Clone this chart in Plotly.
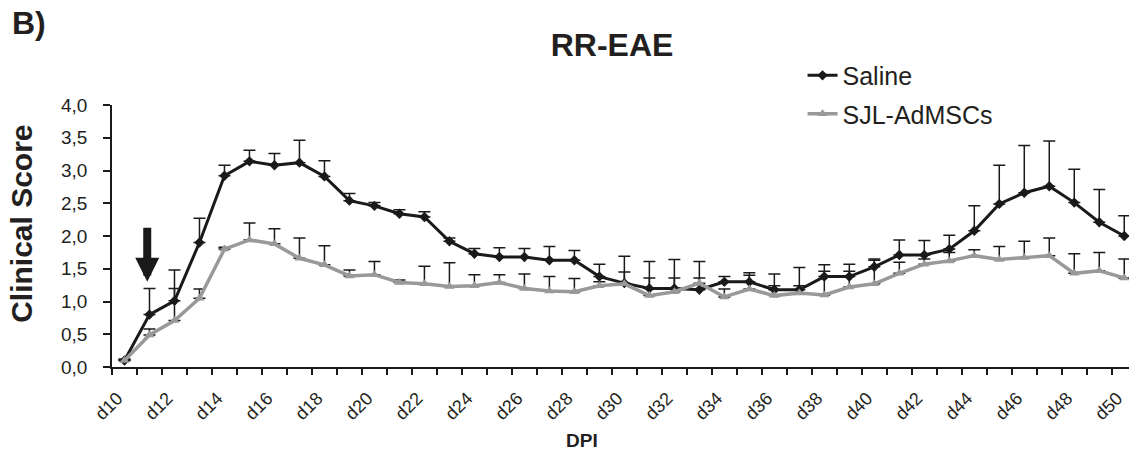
import plotly.graph_objects as go

days = [f"d{d}" for d in range(10, 51)]
tick_labels = [f"d{d}" for d in range(10, 51, 2)]

saline_mean = [0.10, 0.80, 1.01, 1.90, 2.92, 3.14, 3.08, 3.12, 2.91, 2.54,
               2.46, 2.34, 2.29, 1.92, 1.73, 1.68, 1.68, 1.63, 1.63, 1.38,
               1.28, 1.20, 1.20, 1.18, 1.30, 1.30, 1.18, 1.18, 1.38, 1.38,
               1.53, 1.71, 1.71, 1.80, 2.08, 2.49, 2.66, 2.76, 2.51, 2.21,
               2.00]
saline_sem = [0.02, 0.40, 0.47, 0.37, 0.16, 0.17, 0.18, 0.34, 0.24, 0.11,
              0.05, 0.06, 0.08, 0.05, 0.08, 0.14, 0.13, 0.21, 0.15, 0.19,
              0.41, 0.41, 0.44, 0.43, 0.08, 0.14, 0.24, 0.34, 0.18, 0.19,
              0.12, 0.23, 0.22, 0.21, 0.38, 0.59, 0.72, 0.69, 0.51, 0.50,
              0.31]
sjl_mean = [0.10, 0.49, 0.71, 1.05, 1.80, 1.94, 1.88, 1.66, 1.56, 1.39,
            1.41, 1.29, 1.27, 1.23, 1.24, 1.29, 1.20, 1.16, 1.15, 1.24,
            1.27, 1.09, 1.15, 1.28, 1.07, 1.19, 1.09, 1.13, 1.10, 1.22,
            1.27, 1.43, 1.57, 1.62, 1.70, 1.64, 1.67, 1.70, 1.43, 1.47,
            1.36]
sjl_sem = [0.02, 0.09, 0.49, 0.14, 0.03, 0.26, 0.23, 0.31, 0.29, 0.09,
           0.20, 0.04, 0.27, 0.36, 0.17, 0.12, 0.22, 0.22, 0.20, 0.06,
           0.18, 0.27, 0.21, 0.08, 0.12, 0.21, 0.15, 0.11, 0.36, 0.24,
           0.36, 0.17, 0.08, 0.13, 0.09, 0.20, 0.25, 0.27, 0.30, 0.28,
           0.29]

y_ticks = [0, 0.5, 1, 1.5, 2, 2.5, 3, 3.5, 4]

FONT = "Liberation Sans, Arial, sans-serif"
TXT = "#231f20"

xi = list(range(len(days)))
tick_idx = [days.index(t) for t in tick_labels]

fig = go.Figure()
fig.add_trace(go.Scatter(
    x=xi, y=saline_mean, name="Saline", mode="lines+markers",
    line=dict(color="#1a1a1a", width=3),
    marker=dict(symbol="diamond", size=8, color="#1a1a1a"),
    error_y=dict(type="data", array=saline_sem, arrayminus=[0] * len(days),
                 symmetric=False, color="#1a1a1a", thickness=1.5, width=6),
    legendgroup="a",
))
fig.add_trace(go.Scatter(
    x=xi, y=sjl_mean, name="SJL-AdMSCs", mode="lines+markers",
    line=dict(color="#999999", width=3.5),
    marker=dict(symbol="triangle-up", size=9, color="#999999"),
    error_y=dict(type="data", array=sjl_sem, arrayminus=[0] * len(days),
                 symmetric=False, color="#1a1a1a", thickness=1.5, width=6),
    legendgroup="b",
))

fig.update_layout(
    width=1129, height=456,
    margin=dict(l=112, r=0, t=105, b=89),
    plot_bgcolor="white", paper_bgcolor="white",
    separators=",.",
    font=dict(family=FONT, color=TXT),
    title=dict(text="<b>RR-EAE</b>", x=612 / 1129, xanchor="center",
               y=1 - 45 / 456, yanchor="middle",
               font=dict(size=32, family=FONT, color=TXT)),
    legend=dict(x=0.679, y=1.2, xanchor="left", yanchor="top",
                font=dict(size=25, family=FONT, color=TXT),
                tracegroupgap=3, bgcolor="rgba(0,0,0,0)"),
    xaxis=dict(
        range=[-0.5, 40.19], showgrid=False, zeroline=False,
        showline=True, linecolor="#1a1a1a", linewidth=1.5,
        tickmode="array", tickvals=tick_idx, ticktext=tick_labels,
        ticks="", tickangle=-45, ticklabelstandoff=12, ticklabelshift=-7,
        ticklabeloverflow="allow",
        tickfont=dict(size=18, family=FONT, color=TXT),
        minor=dict(tickmode="array", tickvals=[i - 0.5 for i in xi] + [len(days) - 0.5],
                   ticks="outside", ticklen=6, tickwidth=1.5, tickcolor="#1a1a1a",
                   showgrid=False),
    ),
    yaxis=dict(
        range=[0, 4], showgrid=False, zeroline=False,
        showline=True, linecolor="#1a1a1a", linewidth=1.5,
        tickmode="array", tickvals=y_ticks, tickformat=".1f",
        ticks="outside", ticklen=7, tickwidth=1.5, tickcolor="#1a1a1a",
        ticklabelstandoff=12,
        tickfont=dict(size=19, family=FONT, color=TXT),
    ),
    annotations=[
        dict(text="<b>B)</b>", xref="paper", yref="paper",
             x=(10 - 112) / 1017, y=(367.3 - 23) / 262.3,
             xanchor="left", yanchor="middle", showarrow=False,
             font=dict(size=32, family=FONT, color=TXT)),
        dict(text="<b>Clinical Score</b>", xref="paper", yref="paper",
             x=(22 - 112) / 1017, y=(367.3 - 224) / 262.3, textangle=-90,
             xanchor="center", yanchor="middle", showarrow=False,
             font=dict(size=30, family=FONT, color=TXT)),
        dict(text="<b>DPI</b>", xref="paper", yref="paper",
             x=(582 - 112) / 1017, y=(367.3 - 441) / 262.3,
             xanchor="center", yanchor="middle", showarrow=False,
             font=dict(size=19, family=FONT, color=TXT)),
        dict(text="", x=0.91, y=1.30, ax=0.91, ay=2.15, xref="x", yref="y",
             axref="x", ayref="y", showarrow=True, arrowhead=2,
             arrowwidth=8, arrowsize=0.6, arrowcolor="#1a1a1a"),
    ],
)

fig.write_html("out.html", config={"displayModeBar": False},
               post_script="document.body.style.margin='0';document.body.style.overflow='hidden';")
